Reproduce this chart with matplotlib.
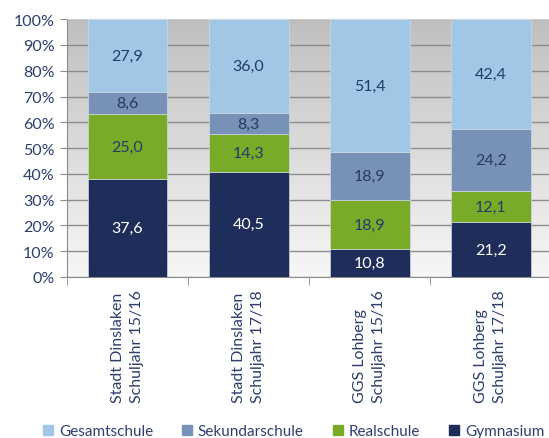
import numpy as np
import matplotlib
matplotlib.use("Agg")
import matplotlib.pyplot as plt
from matplotlib.patches import Patch

plt.rcParams['font.family'] = ['Lato', 'DejaVu Sans']

# Daten
kategorien = ["Stadt Dinslaken\nSchuljahr 15/16", "Stadt Dinslaken\nSchuljahr 17/18",
              "GGS Lohberg\nSchuljahr 15/16", "GGS Lohberg\nSchuljahr 17/18"]
gymnasium = [37.6, 40.5, 10.8, 21.2]
realschule = [25.0, 14.3, 18.9, 12.1]
sekundarschule = [8.6, 8.3, 18.9, 24.2]
gesamtschule = [27.9, 36.0, 51.4, 42.4]

serien = [("Gymnasium", gymnasium, "#1f2d5a", "white"),
          ("Realschule", realschule, "#7aab28", "#243a6b"),
          ("Sekundarschule", sekundarschule, "#7891b7", "#243a6b"),
          ("Gesamtschule", gesamtschule, "#a0c8e6", "#243a6b")]

textfarbe = "#2e3f6e"

fig = plt.figure(figsize=(5.49, 4.39), dpi=100)
ax = fig.add_axes([0.122, 0.367, 0.882, 0.587])

# Hintergrund-Verlauf (oben grau, unten fast weiss)
grad = np.linspace(0, 1, 256).reshape(-1, 1)
ax.imshow(grad, cmap=matplotlib.colors.LinearSegmentedColormap.from_list("g", ["#f7f7f7", "#bfbfbf"]),
          extent=[-0.5, 3.5, 0, 100], origin="lower", aspect="auto", zorder=0)

x = np.arange(len(kategorien))
summen = np.sum([s[1] for s in serien], axis=0)
unten = np.zeros(len(kategorien))
for name, werte, farbe, lfarbe in serien:
    anteil = np.array(werte) / summen * 100
    ax.bar(x, anteil, width=0.66, bottom=unten, color=farbe, edgecolor="#d0d8e0",
           linewidth=0.5, zorder=3, label=name)
    for xi, b, h, w in zip(x, unten, anteil, werte):
        ax.text(xi, b + h / 2, f"{w:.1f}".replace(".", ","), ha="center", va="center",
                fontsize=11.5, color=lfarbe, zorder=4)
    unten += anteil

ax.set_xlim(-0.5, 3.5)
ax.set_ylim(0, 100)
ax.set_yticks(range(0, 101, 10))
ax.set_yticklabels([f"{v}%" for v in range(0, 101, 10)], fontsize=11.5, color=textfarbe)
ax.yaxis.grid(True, color="#8c8c8c", linewidth=1.0, zorder=1)
ax.set_axisbelow(True)
ax.tick_params(axis="y", length=5, color="#8c8c8c", pad=4)

ax.set_xticks(x)
ax.set_xticklabels(kategorien, rotation=90, ha="center", va="top", multialignment="left",
                   fontsize=11.5, color=textfarbe, linespacing=1.5)
ax.tick_params(axis="x", length=0, pad=9)
ax.set_xticks([-0.5, 0.5, 1.5, 2.5, 3.5], minor=True)
ax.tick_params(axis="x", which="minor", length=6, color="#8c8c8c")

ax.spines["right"].set_visible(False)
ax.spines["left"].set_color("#8c8c8c")
ax.spines["bottom"].set_color("#8c8c8c")
ax.spines["top"].set_color("#d0d0d0")

handles = [Patch(color=c, label=n) for n, _, c, _ in reversed(serien)]
fig.legend(handles=handles, loc="center", bbox_to_anchor=(0.535, 0.016), ncol=4,
           frameon=False, fontsize=11, handlelength=0.65, handleheight=0.65,
           handletextpad=0.4, columnspacing=1.9, labelcolor=textfarbe)

fig.savefig("out.png", dpi=100)
